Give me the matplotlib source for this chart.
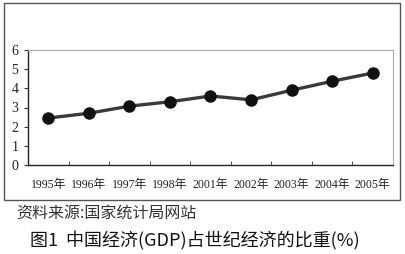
import matplotlib.pyplot as plt
from matplotlib.patches import Rectangle

# data
years = ['1995年', '1996年', '1997年', '1998年', '2001年', '2002年', '2003年', '2004年', '2005年']
share = [2.45, 2.7, 3.07, 3.3, 3.6, 3.4, 3.9, 4.37, 4.8]
yticks = [0, 1, 2, 3, 4, 5, 6]

source_text = '资料来源:国家统计局网站'
caption = '图1  中国经济(GDP)占世纪经济的比重(%)'

serif = ['Liberation Serif', 'Noto Sans CJK SC']
plt.rcParams['font.family'] = ['Noto Sans CJK SC', 'DejaVu Sans']

W, H = 406, 254
fig = plt.figure(figsize=(W / 100, H / 100), dpi=100)

# outer frame around the chart
fig.patches.append(Rectangle((4 / W, 1 - 200 / H), 396 / W, 197 / H,
                             transform=fig.transFigure, fill=False,
                             edgecolor='#555555', linewidth=1.0))

ax = fig.add_axes([28 / W, 1 - 165 / H, 365 / W, 115 / H])
x = list(range(len(years)))
ax.plot(x, share, color='#3a3a3a', linewidth=2.4, marker='o',
        markersize=8, markerfacecolor='#111111', markeredgecolor='#111111')

ax.set_xlim(-0.5, len(years) - 0.5)
ax.set_ylim(0, 6)
ax.set_yticks(yticks)
ax.set_yticklabels([str(v) for v in yticks], family=serif, fontsize=10, color='#222222')
ax.set_xticks(x)
ax.set_xticklabels(years, family=serif, fontsize=8.5, color='#222222')
ax.set_xticks([i + 0.5 for i in x], minor=True)
ax.tick_params(axis='x', which='major', length=0, pad=10)
ax.tick_params(axis='x', which='minor', length=3, direction='in', color='#333333')
ax.tick_params(axis='y', length=3, direction='out', pad=4, color='#333333')

for side in ['left', 'bottom']:
    ax.spines[side].set_color('#222222')
    ax.spines[side].set_linewidth(1.0)
for side in ['top', 'right']:
    ax.spines[side].set_color('#aaaaaa')
    ax.spines[side].set_linewidth(0.8)

fig.text(16 / W, 1 - 213 / H, source_text, fontsize=11.5, color='#333333',
         va='center', ha='left')
fig.text(30 / W, 1 - 241 / H, caption, fontsize=13, color='#111111',
         va='center', ha='left')

fig.savefig('out.png', dpi=100)
